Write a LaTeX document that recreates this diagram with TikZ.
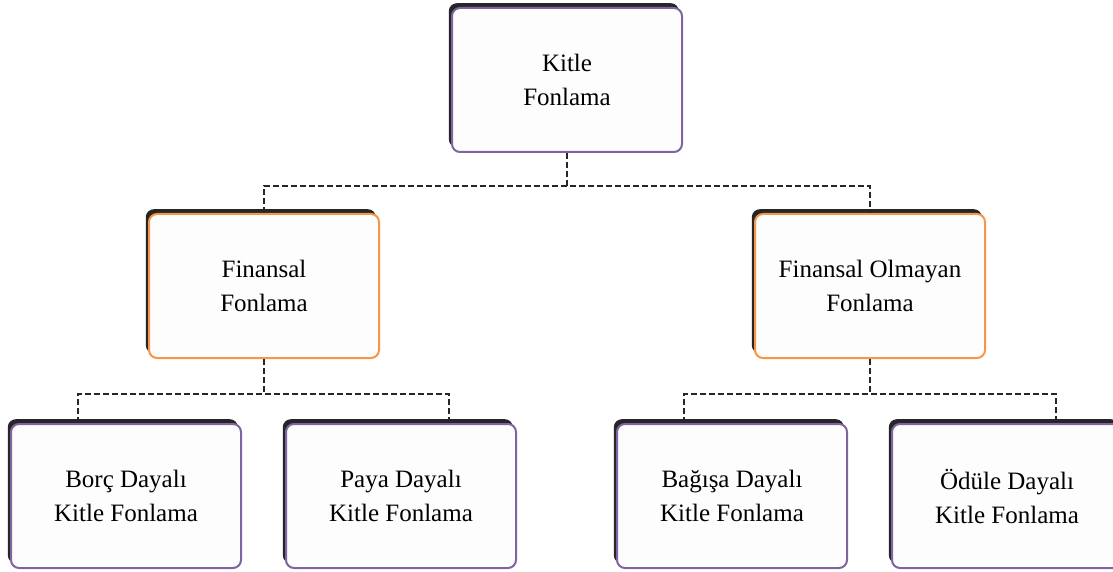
\documentclass[tikz,border=0pt]{standalone}
\usepackage{fontspec}
\setmainfont{Liberation Serif}
\usepackage{xcolor}
\usepackage{tikz}
\usetikzlibrary{positioning}
\usetikzlibrary{shadows}
\usetikzlibrary{calc}

\definecolor{kutumor}{RGB}{128,100,162}
\definecolor{kututuruncu}{RGB}{247,150,70}
\definecolor{kutuzemin}{RGB}{253,253,254}

\tikzset{
  kutu/.style={rectangle, rounded corners=4pt, line width=1pt, fill=kutuzemin,
    minimum width=115pt, minimum height=72pt, inner sep=0pt, align=center,
    font=\fontsize{12.5}{17}\selectfont,
    general shadow={fill=black!85, shadow xshift=-1.6pt, shadow yshift=2.4pt}},
  morkutu/.style={kutu, draw=kutumor},
  turuncukutu/.style={kutu, draw=kututuruncu},
  baglanti/.style={draw=black!85, line width=1.1pt, dash pattern=on 2.8pt off 1.7pt}
}

\begin{document}
\begin{tikzpicture}[x=0.5pt,y=-0.5pt]
\useasboundingbox (0,0) rectangle (1113,572);
\clip (0,0) rectangle (1113,572);

\node[morkutu] (kitle) at (567,80) {Kitle\\Fonlama};

\node[turuncukutu] (finansal) at (264,286) {Finansal\\Fonlama};
\node[turuncukutu] (olmayan) at (870,286) {Finansal Olmayan\\Fonlama};

\node[morkutu] (borc) at (126,496) {Borç Dayalı\\Kitle Fonlama};
\node[morkutu] (paya) at (401,496) {Paya Dayalı\\Kitle Fonlama};
\node[morkutu] (bagis) at (732,496) {Bağışa Dayalı\\Kitle Fonlama};
\node[morkutu] (odul) at (1007,496) {Ödüle Dayalı\\Kitle Fonlama};

% ust seviye
\draw[baglanti] (kitle.south) -- ++(0,33) coordinate (kitlealt);
\draw[baglanti] (finansal.north) |- (kitlealt) -| (olmayan.north);

% alt seviye
\draw[baglanti] (finansal.south) -- ++(0,35) coordinate (finansalalt);
\draw[baglanti] ([xshift=-24pt]borc.north) |- (finansalalt) -| ([xshift=24pt]paya.north);
\draw[baglanti] (olmayan.south) -- ++(0,35) coordinate (olmayanalt);
\draw[baglanti] ([xshift=-24pt]bagis.north) |- (olmayanalt) -| ([xshift=24.5pt]odul.north);
\end{tikzpicture}
\end{document}
